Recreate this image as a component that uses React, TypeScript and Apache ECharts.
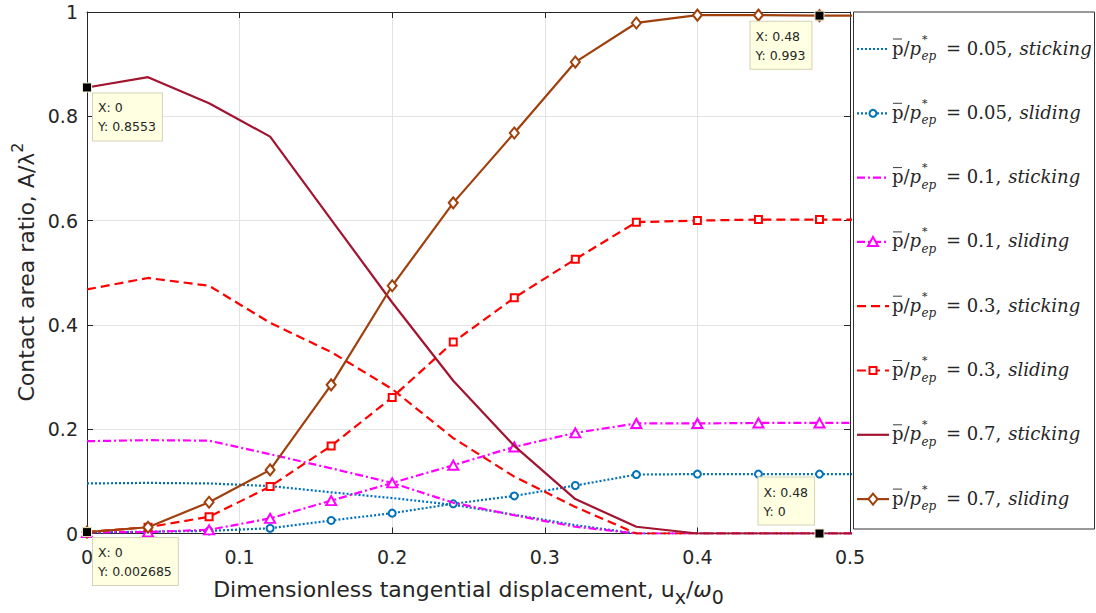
import React, { useEffect, useRef } from 'react';
import * as echarts from 'echarts';

// x positions of the samples (last one lies beyond the axis limit and is clipped)
const X_VALUES = [0, 0.04, 0.08, 0.12, 0.16, 0.2, 0.24, 0.28, 0.32, 0.36, 0.4, 0.44, 0.48, 0.52];

const STICK_005 = [0.096, 0.097, 0.096, 0.091, 0.079, 0.068, 0.055, 0.036, 0.016, 0, 0, 0, 0, 0];
const SLIDE_005 = [0.002, 0.0035, 0.005, 0.010, 0.025, 0.039, 0.057, 0.072, 0.092, 0.113, 0.114, 0.114, 0.114, 0.114];
const STICK_01 = [0.177, 0.179, 0.178, 0.152, 0.125, 0.097, 0.059, 0.035, 0.013, 0, 0, 0, 0, 0];
const SLIDE_01 = [0.002, 0.003, 0.007, 0.029, 0.063, 0.097, 0.131, 0.166, 0.193, 0.211, 0.211, 0.212, 0.212, 0.212];
const STICK_03 = [0.468, 0.490, 0.475, 0.404, 0.348, 0.277, 0.183, 0.109, 0.051, 0, 0, 0, 0, 0];
const SLIDE_03 = [0.003, 0.012, 0.032, 0.090, 0.168, 0.261, 0.367, 0.452, 0.526, 0.597, 0.600, 0.602, 0.602, 0.602];
const STICK_07 = [0.8553, 0.875, 0.825, 0.761, 0.602, 0.443, 0.293, 0.168, 0.066, 0.013, 0, 0, 0, 0];
const SLIDE_07 = [0.002685, 0.012, 0.060, 0.122, 0.285, 0.475, 0.634, 0.768, 0.904, 0.979, 0.994, 0.994, 0.993, 0.993];

const X_TICKS = [0, 0.1, 0.2, 0.3, 0.4, 0.5];
const Y_TICKS = [0, 0.2, 0.4, 0.6, 0.8, 1];

const PRESSURES = ['0.05', '0.05', '0.1', '0.1', '0.3', '0.3', '0.7', '0.7'];
const STATES = ['sticking', 'sliding', 'sticking', 'sliding', 'sticking', 'sliding', 'sticking', 'sliding'];

const SERIES_DATA = [STICK_005, SLIDE_005, STICK_01, SLIDE_01, STICK_03, SLIDE_03, STICK_07, SLIDE_07];

// styles
const STYLES = [
  { color: '#0072BD', dash: [2, 2], symbol: 'none' },
  { color: '#0072BD', dash: [2, 2], symbol: 'circle' },
  { color: '#FF00FF', dash: [8, 3, 2, 3], symbol: 'none' },
  { color: '#FF00FF', dash: [8, 3, 2, 3], symbol: 'triangle' },
  { color: '#FF0000', dash: [9, 5], symbol: 'none' },
  { color: '#FF0000', dash: [9, 5], symbol: 'rect' },
  { color: '#A2142F', dash: 'solid', symbol: 'none' },
  { color: '#A0410D', dash: 'solid', symbol: 'diamond' },
];

const SYMBOL_SIZES: Record<string, any> = {
  circle: 7,
  triangle: [10, 9],
  rect: 7,
  diamond: [9, 11],
};

const TEXT = '#262626';
const SANS = 'DejaVu Sans';
const SERIF = 'DejaVu Serif';

function legendMarker(kind: string, cx: number, cy: number, color: string): any {
  const style = { fill: '#fff', stroke: color, lineWidth: 2 };
  if (kind === 'circle') return { type: 'circle', shape: { cx, cy, r: 3.5 }, style };
  if (kind === 'triangle')
    return { type: 'polygon', shape: { points: [[cx, cy - 5], [cx + 5, cy + 4], [cx - 5, cy + 4]] }, style };
  if (kind === 'rect') return { type: 'rect', shape: { x: cx - 3.5, y: cy - 3.5, width: 7, height: 7 }, style };
  if (kind === 'diamond')
    return { type: 'polygon', shape: { points: [[cx, cy - 5.5], [cx + 4.5, cy], [cx, cy + 5.5], [cx - 4.5, cy]] }, style };
  return null;
}

function buildLegend(): any[] {
  const els: any[] = [];
  els.push({
    type: 'rect',
    shape: { x: 853.5, y: 12, width: 241, height: 517 },
    style: { fill: '#fff', stroke: '#333', lineWidth: 1 },
    z: 10,
  });
  const top = 49;
  const gap = 64.3;
  for (let i = 0; i < PRESSURES.length; i++) {
    const y = top + i * gap;
    const st = STYLES[i];
    els.push({
      type: 'line',
      shape: { x1: 857, y1: y, x2: 889, y2: y },
      style: { stroke: st.color, lineWidth: 2.2, lineDash: st.dash === 'solid' ? null : st.dash },
      z: 11,
    });
    if (st.symbol !== 'none') {
      const m = legendMarker(st.symbol, 873, y, st.color);
      m.z = 12;
      els.push(m);
    }
    // p-bar / p
    els.push({
      type: 'text',
      x: 892,
      y: y - 1,
      z: 12,
      style: {
        text: '{r|p}{r|/}{i|p}',
        verticalAlign: 'middle',
        fill: TEXT,
        rich: {
          r: { fontFamily: SERIF, fontSize: 18, fill: TEXT },
          i: { fontFamily: SERIF, fontSize: 18, fontStyle: 'italic', fill: TEXT },
        },
      },
    });
    els.push({
      type: 'line',
      shape: { x1: 893, y1: y - 10, x2: 902, y2: y - 10 },
      style: { stroke: TEXT, lineWidth: 0.9 },
      z: 12,
    });
    els.push({
      type: 'text',
      x: 922,
      y: y - 10,
      z: 12,
      style: { text: '*', fontFamily: SERIF, fontSize: 11, fill: TEXT, verticalAlign: 'middle' },
    });
    els.push({
      type: 'text',
      x: 921.5,
      y: y + 7,
      z: 12,
      style: { text: 'ep', fontFamily: SERIF, fontSize: 12, fontStyle: 'italic', fill: TEXT, verticalAlign: 'middle' },
    });
    els.push({
      type: 'text',
      x: 946,
      y: y - 1,
      z: 12,
      style: {
        text: '{n|= ' + PRESSURES[i] + ',}{i|' + STATES[i] + '}',
        verticalAlign: 'middle',
        fill: TEXT,
        rich: {
          n: { fontFamily: SERIF, fontSize: 18, fill: TEXT, padding: [0, 7, 0, 0] },
          i: { fontFamily: SERIF, fontSize: 18, fontStyle: 'italic', fill: TEXT },
        },
      },
    });
  }
  return els;
}

const tipLabel = (text: string, extra: any) => ({
  show: true,
  formatter: text,
  fontFamily: SANS,
  fontSize: 12.5,
  color: TEXT,
  backgroundColor: '#FFFFE1',
  borderColor: '#D6D2B5',
  borderWidth: 1,
  padding: [5, 6, 4, 5],
  lineHeight: 19,
  align: 'left',
  ...extra,
});

const tipItem = (xi: number, arr: number[], extra: any) => ({
  coord: [X_VALUES[xi], arr[xi]],
  label: tipLabel('X: ' + X_VALUES[xi] + '\nY: ' + arr[xi], extra),
});

export default function App() {
  const ref = useRef<HTMLDivElement>(null);
  useEffect(() => {
    if (!ref.current) return;
    const chart = echarts.init(ref.current, undefined, { renderer: 'svg' });

    const axisCommon = {
      axisLine: { show: true, onZero: false, lineStyle: { color: TEXT, width: 1 } },
      axisTick: { show: true, inside: true, length: 6, lineStyle: { color: TEXT, width: 1 } },
    };

    const series: any[] = SERIES_DATA.map((vals, i) => {
      const st = STYLES[i];
      const s: any = {
        name: PRESSURES[i] + ' ' + STATES[i],
        type: 'line',
        data: X_VALUES.map((x, k) => [x, vals[k]]),
        clip: true,
        lineStyle: { color: st.color, width: 2.2, type: st.dash },
        symbol: st.symbol,
        showSymbol: st.symbol !== 'none',
        symbolSize: SYMBOL_SIZES[st.symbol] || 0,
        itemStyle: { color: '#fff', borderColor: st.color, borderWidth: 2 },
        emphasis: { disabled: true },
        z: 2 + i * 0.01,
      };
      return s;
    });

    const markCommon = {
      symbol: 'rect',
      symbolSize: 9,
      itemStyle: { color: '#000', borderColor: '#EFEBC8', borderWidth: 1 },
      emphasis: { disabled: true },
      silent: true,
    };
    series[6].markPoint = {
      ...markCommon,
      data: [
        tipItem(0, STICK_07, { position: [11, 11] }),
        tipItem(12, STICK_07, { position: [-56, -4], verticalAlign: 'bottom' }),
      ],
    };
    series[7].markPoint = {
      ...markCommon,
      data: [
        tipItem(0, SLIDE_07, { position: [11, 11] }),
        tipItem(12, SLIDE_07, { position: [-64, 11] }),
      ],
    };

    const option: any = {
      animation: false,
      backgroundColor: '#fff',
      grid: { left: 87, right: 246, top: 12, bottom: 79.5, containLabel: false },
      xAxis: [
        {
          type: 'value',
          min: X_TICKS[0],
          max: X_TICKS[X_TICKS.length - 1],
          interval: 0.1,
          ...axisCommon,
          axisLabel: { margin: 14, fontSize: 19, fontFamily: SANS, color: TEXT },
          splitLine: { show: true, lineStyle: { color: '#E3E3E3', width: 1 } },
        },
        {
          type: 'value',
          position: 'top',
          min: X_TICKS[0],
          max: X_TICKS[X_TICKS.length - 1],
          interval: 0.1,
          ...axisCommon,
          axisLabel: { show: false },
          splitLine: { show: false },
        },
      ],
      yAxis: [
        {
          type: 'value',
          min: Y_TICKS[0],
          max: Y_TICKS[Y_TICKS.length - 1],
          interval: 0.2,
          ...axisCommon,
          axisLabel: { margin: 9, fontSize: 19, fontFamily: SANS, color: TEXT },
          splitLine: { show: true, lineStyle: { color: '#E3E3E3', width: 1 } },
        },
        {
          type: 'value',
          position: 'right',
          min: Y_TICKS[0],
          max: Y_TICKS[Y_TICKS.length - 1],
          interval: 0.2,
          ...axisCommon,
          axisLabel: { show: false },
          splitLine: { show: false },
        },
      ],
      series,
      graphic: [
        {
          type: 'text',
          x: 468.5,
          y: 589,
          z: 5,
          style: {
            text: '{m|Dimensionless tangential displacement, u}{s|x}{m|/}{w|ω}{s|0}',
            align: 'center',
            verticalAlign: 'middle',
            fill: TEXT,
            rich: {
              m: { fontFamily: SANS, fontSize: 22, lineHeight: 34, fill: TEXT },
              w: { fontFamily: SANS, fontSize: 22, lineHeight: 34, fontStyle: 'italic', fill: TEXT },
              s: { fontFamily: SANS, fontSize: 19, lineHeight: 19, verticalAlign: 'bottom', fill: TEXT },
            },
          },
        },
        {
          type: 'text',
          x: 26,
          y: 272,
          rotation: Math.PI / 2,
          z: 5,
          style: {
            text: '{m|Contact area ratio, A/λ}{s|2}',
            align: 'center',
            verticalAlign: 'middle',
            fill: TEXT,
            rich: {
              m: { fontFamily: SANS, fontSize: 22, lineHeight: 34, fill: TEXT },
              s: { fontFamily: SANS, fontSize: 16, lineHeight: 16, verticalAlign: 'top', fill: TEXT },
            },
          },
        },
        ...buildLegend(),
      ],
    };
    chart.setOption(option);
    return () => chart.dispose();
  }, []);
  return (
    <div
      ref={ref}
      style={{ position: 'absolute', left: 0, top: 0, width: 1096, height: 613, background: '#fff' }}
    />
  );
}
